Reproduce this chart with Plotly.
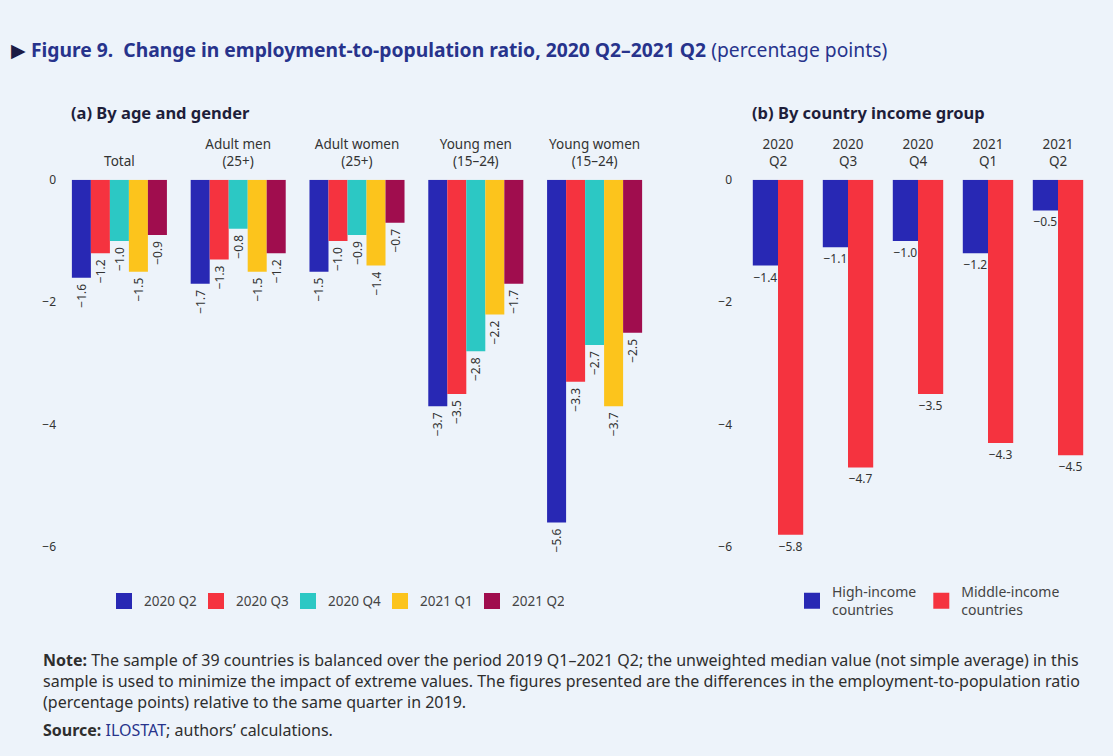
import plotly.graph_objects as go

# ---- data -------------------------------------------------------------
age_groups = ["Total", "Adult men<br>(25+)", "Adult women<br>(25+)",
              "Young men<br>(15–24)", "Young women<br>(15–24)"]
quarters = ["2020 Q2", "2020 Q3", "2020 Q4", "2021 Q1", "2021 Q2"]

q2020_2 = [-1.6, -1.7, -1.5, -3.7, -5.6]
q2020_3 = [-1.2, -1.3, -1.0, -3.5, -3.3]
q2020_4 = [-1.0, -0.8, -0.9, -2.8, -2.7]
q2021_1 = [-1.5, -1.5, -1.4, -2.2, -3.7]
q2021_2 = [-0.9, -1.2, -0.7, -1.7, -2.5]

income_quarters = ["2020<br>Q2", "2020<br>Q3", "2020<br>Q4", "2021<br>Q1", "2021<br>Q2"]
high_income = [-1.4, -1.1, -1.0, -1.2, -0.5]
middle_income = [-5.8, -4.7, -3.5, -4.3, -4.5]
income_names = ["High-income<br>countries", "Middle-income<br>countries"]

y_ticks = [0, -2, -4, -6]

# ---- style ------------------------------------------------------------
W, H = 1113, 756
BG = "#edf3fa"
TXT = "#333333"
FONT = "Noto Sans, Open Sans, sans-serif"
colors = ["#2828b4", "#f5333f", "#2cc8c4", "#fcc41c", "#a00d4e"]
title_col = "#27338c"


def fmt(v):
    return f"{v:.1f}".replace("-", "\u2212")


def px_x(x):
    return x / W


def px_y(y):
    # page pixel row -> paper fraction (compensates the viewer's vertical fit)
    return 1 - ((y - 9.7) / 0.985) / H


fig = go.Figure()

# panel (a): age and gender; rotated value labels sit a little below each bar
age_series = [q2020_2, q2020_3, q2020_4, q2021_1, q2021_2]
for name, vals, col in zip(quarters, age_series, colors):
    fig.add_trace(go.Bar(
        x=age_groups, y=vals, name=name, marker=dict(color=col, line_width=0),
        text=[fmt(v) + "\u00a0" for v in vals], textposition="outside",
        textangle=-90, textfont=dict(size=12, color=TXT, family=FONT),
        constraintext="none", cliponaxis=False, showlegend=False,
        xaxis="x", yaxis="y",
    ))
    # legend swatch
    fig.add_trace(go.Scatter(
        x=[None], y=[None], mode="markers", name=name,
        marker=dict(symbol="square", size=16, color=col),
        legend="legend", xaxis="x", yaxis="y",
    ))

# panel (b): country income group (two bars per quarter, wider slots)
bw = 0.36
for name, vals, col, off in zip(income_names, [high_income, middle_income],
                                colors[:2], [-bw, 0]):
    fig.add_trace(go.Bar(
        x=income_quarters, y=vals, name=name, marker=dict(color=col, line_width=0),
        width=bw, offset=off,
        text=[fmt(v) for v in vals], textposition="outside", textangle=0,
        textfont=dict(size=12, color=TXT, family=FONT), constraintext="none",
        cliponaxis=False, showlegend=False, xaxis="x2", yaxis="y2",
    ))
    fig.add_trace(go.Scatter(
        x=[None], y=[None], mode="markers", name=name,
        marker=dict(symbol="square", size=16, color=col),
        legend="legend2", xaxis="x2", yaxis="y2",
    ))

y_top, y_bot = 180, 564.3
ydom = [px_y(y_bot), px_y(y_top)]
yrange = [-6.3, 0]

axis_common = dict(showgrid=False, zeroline=False, showline=False, ticks="")
xfont = dict(size=13.5, color=TXT, family=FONT)
yfont = dict(size=12, color=TXT, family=FONT)
ytext = [fmt(v).replace(".0", "") for v in y_ticks]

fig.update_layout(
    width=W, height=H, margin=dict(l=0, r=0, t=0, b=0),
    paper_bgcolor=BG, plot_bgcolor=BG,
    barmode="group", bargap=0.2, bargroupgap=0,
    font=dict(family=FONT, color=TXT),
    xaxis=dict(domain=[px_x(60), px_x(654)], side="top", anchor="y",
               tickfont=xfont, ticklabelstandoff=10, **axis_common),
    yaxis=dict(domain=ydom, range=yrange, tickvals=y_ticks, ticktext=ytext,
               anchor="x", tickfont=yfont, ticklabelstandoff=3, **axis_common),
    xaxis2=dict(domain=[px_x(743), px_x(1093)], side="top", anchor="y2",
                tickfont=xfont, ticklabelstandoff=10, **axis_common),
    yaxis2=dict(domain=ydom, range=yrange, tickvals=y_ticks, ticktext=ytext,
                anchor="x2", tickfont=yfont, ticklabelstandoff=10, **axis_common),
    legend=dict(orientation="h", x=px_x(104), y=px_y(600), xanchor="left",
                yanchor="middle", bgcolor="rgba(0,0,0,0)",
                entrywidth=47, entrywidthmode="pixels",
                font=dict(size=13.5, color="#444444", family=FONT)),
    legend2=dict(orientation="h", x=px_x(792), y=px_y(600), xanchor="left",
                 yanchor="middle", bgcolor="rgba(0,0,0,0)",
                 font=dict(size=14, color="#444444", family=FONT)),
)

# title and panel headings
fig.add_annotation(
    x=px_x(9), y=px_y(50), xref="paper", yref="paper", xanchor="left",
    yanchor="middle", showarrow=False,
    text=("<span style='color:#1c1c44'>\u25b6</span> <b>Figure 9.  Change in "
          "employment-to-population ratio, 2020 Q2–2021 Q2</b> (percentage points)"),
    font=dict(size=19.3, color=title_col, family=FONT),
)
for x0, label in [(69, "(a) By age and gender"), (750, "(b) By country income group")]:
    fig.add_annotation(
        x=px_x(x0), y=px_y(113), xref="paper", yref="paper", xanchor="left",
        yanchor="middle", showarrow=False, text=f"<b>{label}</b>",
        font=dict(size=16.5, color="#1e1e3a", family=FONT),
    )

# note and source
NOTE_SIZE = 16
note_lines = [
    "<b>Note:</b> The sample of 39 countries is balanced over the period 2019 Q1–2021 Q2; "
    "the unweighted median value (not simple average) in this",
    "sample is used to minimize the impact of extreme values. The figures presented are "
    "the differences in the employment-to-population ratio",
    "(percentage points) relative to the same quarter in 2019.",
]
fig.add_annotation(
    x=px_x(41), y=px_y(679.5), xref="paper", yref="paper",
    xanchor="left", yanchor="middle", align="left", showarrow=False,
    text="<br>".join(note_lines),
    font=dict(size=NOTE_SIZE, color="#2e2e2e", family=FONT),
)
fig.add_annotation(
    x=px_x(41), y=px_y(728), xref="paper", yref="paper", xanchor="left",
    yanchor="middle", showarrow=False,
    text=(f"<b>Source:</b> <span style='color:{title_col}'>ILOSTAT</span>; "
          "authors’ calculations."),
    font=dict(size=NOTE_SIZE, color="#2e2e2e", family=FONT),
)

fig.write_html("out.html")
